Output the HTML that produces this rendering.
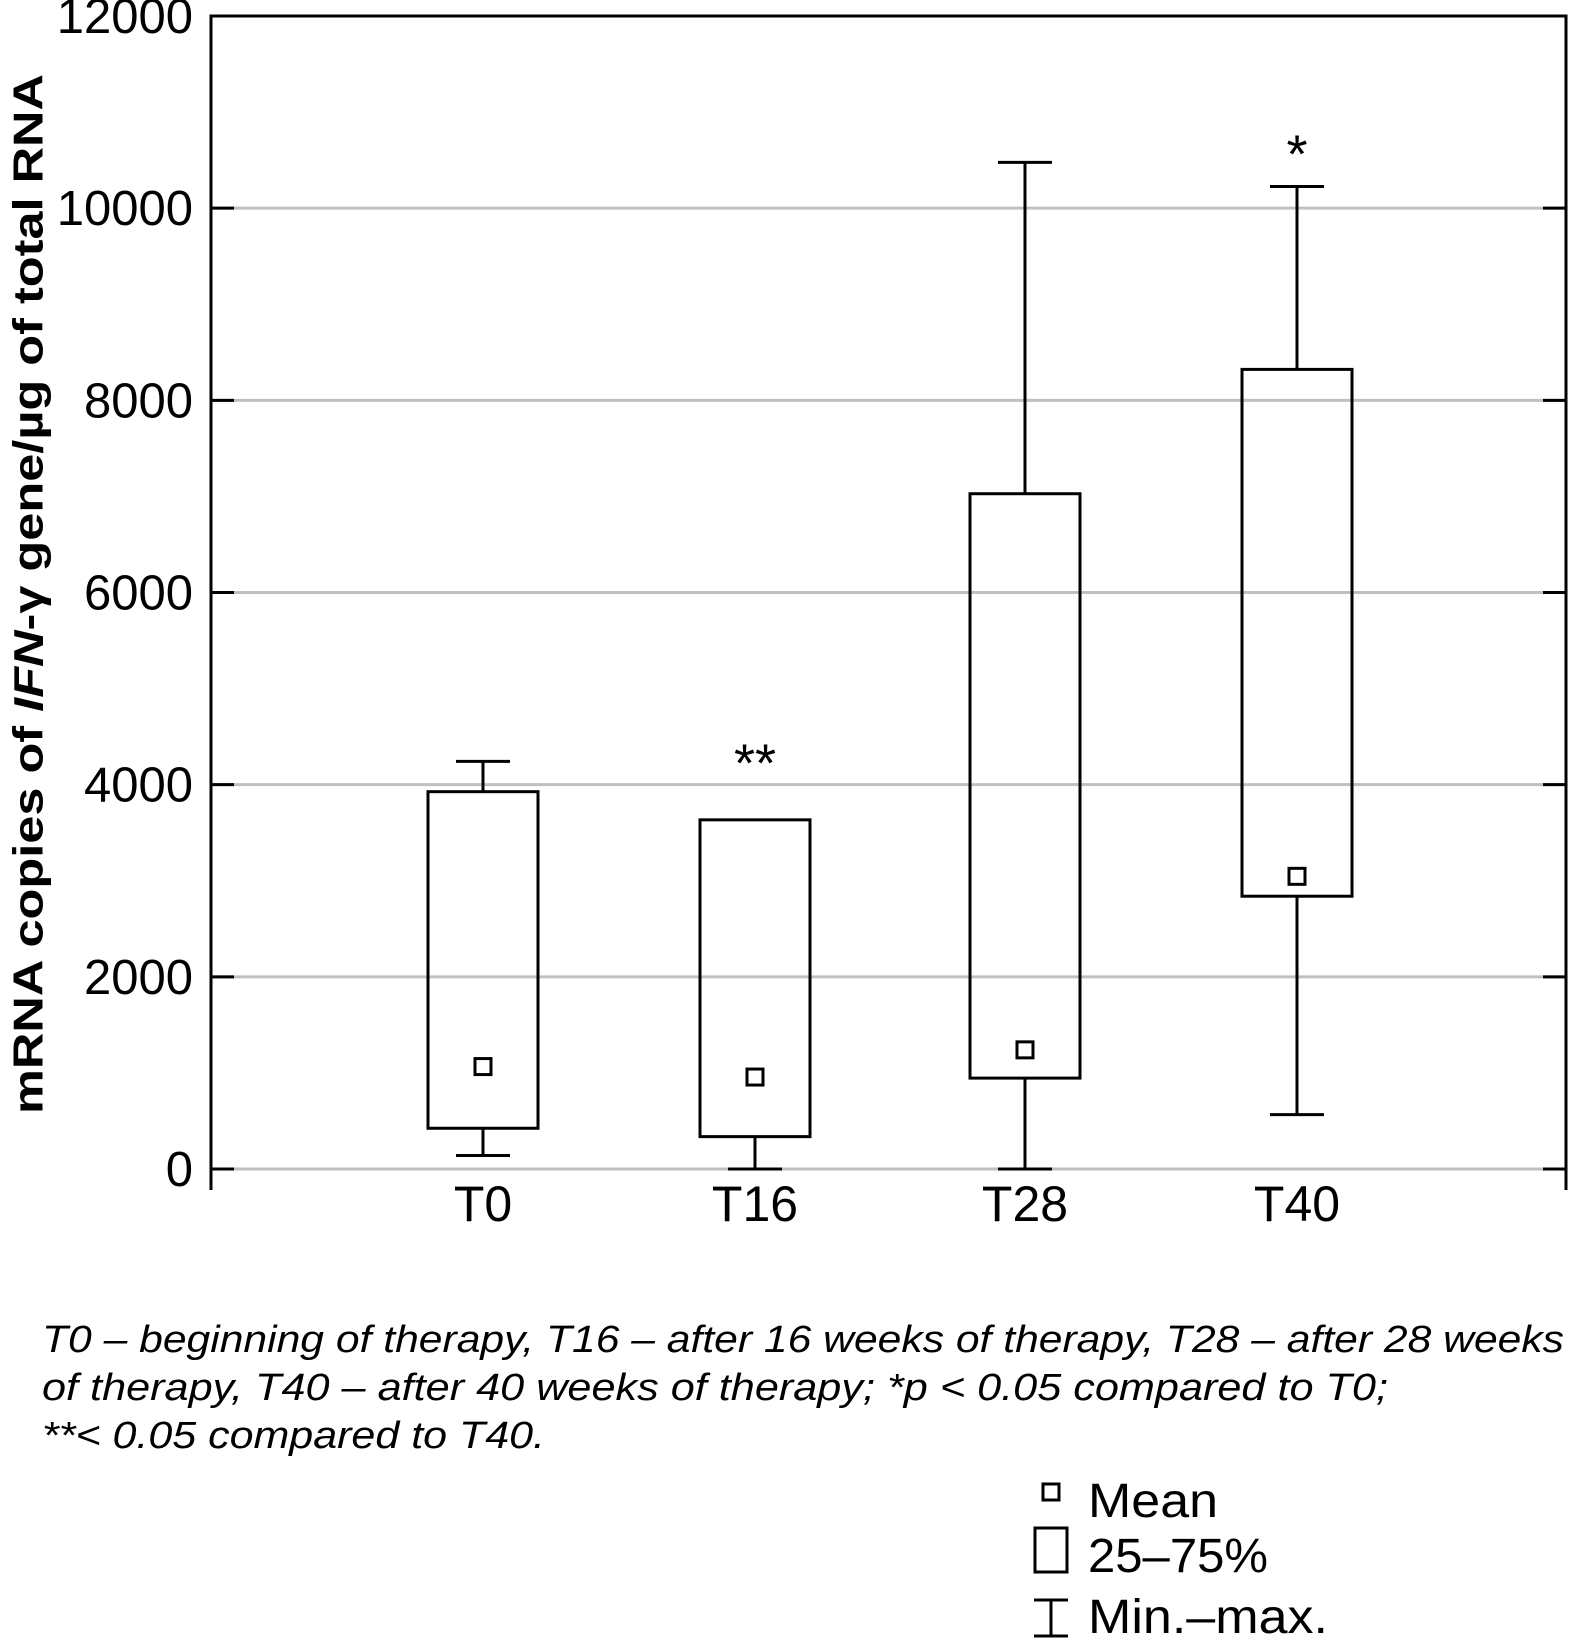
<!DOCTYPE html>
<html><head><meta charset="utf-8"><style>
html,body{margin:0;padding:0;background:#fff;}
svg{display:block;font-family:"Liberation Sans",sans-serif;}
</style></head><body>
<svg id="chart" width="1570" height="1640" viewBox="0 0 1570 1640">
<g id="grid"></g>
<g id="axes"></g>
<g id="boxes"></g>
<text x="28" y="594" transform="rotate(-90 28 594)" text-anchor="middle" dominant-baseline="central" font-size="42" font-weight="bold" textLength="1040" lengthAdjust="spacingAndGlyphs">mRNA copies of <tspan font-style="italic">IFN</tspan>-γ gene/µg of total RNA</text>
<g font-style="italic" font-size="38">
<text x="42" y="1352" textLength="1522" lengthAdjust="spacingAndGlyphs">T0 – beginning of therapy, T16 – after 16 weeks of therapy, T28 – after 28 weeks</text>
<text x="42" y="1400" textLength="1346" lengthAdjust="spacingAndGlyphs">of therapy, T40 – after 40 weeks of therapy; *p &lt; 0.05 compared to T0;</text>
<text x="42" y="1448" textLength="503" lengthAdjust="spacingAndGlyphs">**&lt; 0.05 compared to T40.</text>
</g>
<g font-size="48">
<rect x="1043" y="1484" width="16" height="16" fill="none" stroke="#000" stroke-width="3"/>
<text x="1088" y="1517" textLength="130" lengthAdjust="spacingAndGlyphs">Mean</text>
<rect x="1035" y="1528" width="32" height="44" fill="none" stroke="#000" stroke-width="3"/>
<text x="1088" y="1572" textLength="180" lengthAdjust="spacingAndGlyphs">25–75%</text>
<path d="M1034 1600H1068M1051 1600V1636M1034 1636H1068" stroke="#000" stroke-width="3" fill="none"/>
<text x="1088" y="1633" textLength="240" lengthAdjust="spacingAndGlyphs">Min.–max.</text>
</g>
</svg>
<script>
const categories = ["T0","T16","T28","T40"];
const maxVals = [4243, 0, 10477, 10226];
const q3Vals = [3927, 3634, 7028, 8322];
const q1Vals = [424, 337, 946, 2839];
const minVals = [141, 0, 0, 566];
const meanVals = [1066, 957, 1240, 3046];
const stars = ["", "**", "", "*"];
const starVals = [0, 4260, 0, 10600];
const yTicks = [0, 2000, 4000, 6000, 8000, 10000, 12000];

const NS = "http://www.w3.org/2000/svg";
const X0 = 211, X1 = 1566, Y0 = 1169, Y1 = 16;
const centers = [483, 755, 1025, 1297];
function y(v){ return Y0 - (v/12000)*(Y0-Y1); }
function xc(i){ return centers[i]; }
function mk(tag, attrs, parent){ const e=document.createElementNS(NS,tag); for(const k in attrs) e.setAttribute(k,attrs[k]); parent.appendChild(e); return e; }
const grid=document.getElementById('grid'), axes=document.getElementById('axes'), boxes=document.getElementById('boxes');

yTicks.forEach(t=>{
  if(t<12000){
    const g=mk('line',{x1:X0,x2:X1,y1:y(t),y2:y(t),stroke:'#c0c0c0','stroke-width':3},grid);
    
    
  }
  const tl=mk('line',{x1:X0,x2:X0+23,y1:y(t),y2:y(t),stroke:'#000','stroke-width':3},axes);
  
  
  const tr=mk('line',{x1:X1-23,x2:X1,y1:y(t),y2:y(t),stroke:'#000','stroke-width':3},axes);
  
  
  const lb=mk('text',{x:193,y:y(t)+17,'text-anchor':'end','font-size':49},axes);
  lb.textContent=t;
  
  
});
const fr=mk('path',{d:`M${X0} 1190V${Y1}H${X1}V1190`,fill:'none',stroke:'#000','stroke-width':3},axes);



categories.forEach((c,i)=>{
  const cx=xc(i), hw=55, cw=27;
  const g=mk('g',{},boxes);
  
  
  let d='';
  if(maxVals[i]>q3Vals[i]) d+=`M${cx} ${y(q3Vals[i])}V${y(maxVals[i])}M${cx-cw} ${y(maxVals[i])}H${cx+cw}`;
  d+=`M${cx} ${y(q1Vals[i])}V${y(minVals[i])}M${cx-cw} ${y(minVals[i])}H${cx+cw}`;
  const w=mk('path',{d:d,stroke:'#000','stroke-width':3,fill:'none'},g);
  
  
  const r=mk('rect',{x:cx-hw,y:y(q3Vals[i]),width:2*hw,height:y(q1Vals[i])-y(q3Vals[i]),fill:'none',stroke:'#000','stroke-width':3},g);
  
  
  const m=mk('rect',{x:cx-8,y:y(meanVals[i])-8,width:16,height:16,fill:'#fff',stroke:'#000','stroke-width':3},g);
  
  
  const lb=mk('text',{x:cx,y:1221,'text-anchor':'middle','font-size':50},axes);
  lb.textContent=c;
  
  
  if(stars[i]){
    const s=mk('text',{x:cx,y:y(starVals[i])+22,'text-anchor':'middle','font-size':54},g);
    s.textContent=stars[i];
    
    
  }
});
</script>
</body></html>
